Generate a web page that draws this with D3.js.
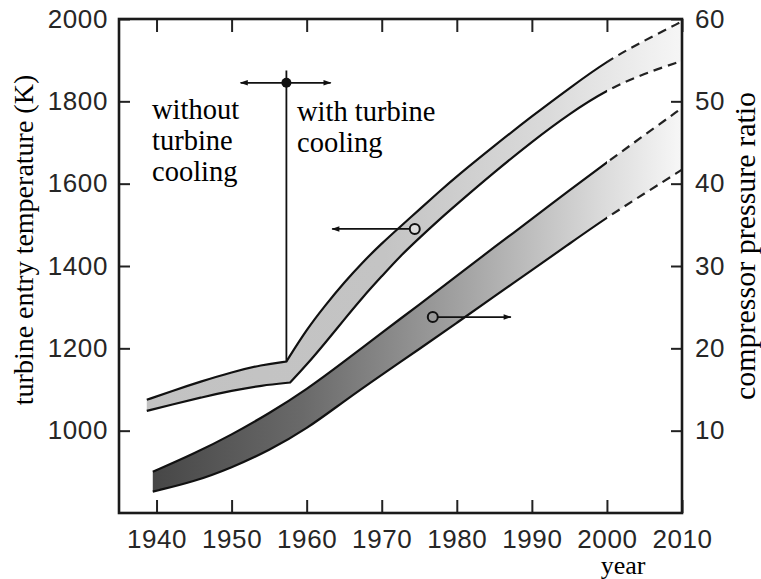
<!DOCTYPE html>
<html>
<head>
<meta charset="utf-8">
<script src="https://cdn.jsdelivr.net/npm/d3@7/dist/d3.min.js"></script>
<style>
  html, body { margin: 0; padding: 0; background: #fff; }
  svg { display: block; }
</style>
</head>
<body>
<script>
// ---- data -------------------------------------------------------------
// Turbine entry temperature band (K), upper and lower edges
const tetUpperYears = [1938.7, 1942, 1946, 1950, 1954, 1957.3, 1960, 1962.5, 1965, 1967.5, 1970, 1972.5, 1975, 1977.5, 1980, 1985, 1990, 1995, 2000, 2005, 2010];
const tetUpper      = [1075, 1096, 1120, 1142, 1160, 1168, 1246, 1305, 1360, 1410, 1455, 1496, 1537, 1578, 1618, 1692, 1764, 1832, 1898, 1948, 1994];
const tetLowerYears = [1938.7, 1942, 1946, 1950, 1954, 1957.8, 1960, 1962.5, 1965, 1967.5, 1970, 1972.5, 1975, 1977.5, 1980, 1985, 1990, 1995, 2000, 2005, 2010];
const tetLower      = [1048, 1063, 1081, 1097, 1110, 1117, 1160, 1214, 1270, 1325, 1375, 1425, 1468, 1510, 1550, 1628, 1702, 1770, 1828, 1868, 1898];
const tetKinkYear = 1957.3;   // start of turbine blade cooling

// Compressor pressure ratio band, upper and lower edges
const prYears = [1939.5, 1945, 1950, 1955, 1960, 1965, 1970, 1975, 1980, 1985, 1990, 1995, 2000, 2005, 2010];
const prUpper = [5.0, 7.2, 9.5, 12.1, 15.0, 18.4, 21.9, 25.3, 28.8, 32.3, 35.7, 39.2, 42.6, 45.9, 49.2];
const prLower = [2.6, 3.8, 5.5, 7.6, 10.2, 13.6, 16.8, 19.9, 23.1, 26.3, 29.5, 32.7, 35.9, 38.8, 41.7];

// Projection (dashed) starts
const projectionYear = 2000;

// Axis ticks
const yearTicks = [1940, 1950, 1960, 1970, 1980, 1990, 2000, 2010];
const tempTicks = [1000, 1200, 1400, 1600, 1800, 2000];
const ratioTicks = [10, 20, 30, 40, 50, 60];

// Annotation: switch to cooled turbines, and series markers
const coolingYear = 1957.3;
const coolingDotTemp = 1845;
const coolingLineTop = 1875;
const coolingArrowYears = [1951.2, 1963.2];
const tempMarker = { year: 1974.4, value: 1490, arrowTo: 1963.4 };
const ratioMarker = { year: 1976.8, value: 23.8, arrowTo: 1987.2 };

// ---- layout -----------------------------------------------------------
const W = 761, H = 579;
const plot = { left: 119, right: 682, top: 19, bottom: 513 };

const x = d3.scaleLinear().domain([1935, 2010]).range([plot.left, plot.right]);
const yT = d3.scaleLinear().domain([800, 2000]).range([plot.bottom, plot.top]);
const yR = d3.scaleLinear().domain([0, 60]).range([plot.bottom, plot.top]);

const svg = d3.select("body").append("svg").attr("width", W).attr("height", H);
const defs = svg.append("defs");

// horizontal fades of the two bands
function gradient(id, stops) {
  const g = defs.append("linearGradient").attr("id", id)
    .attr("gradientUnits", "userSpaceOnUse")
    .attr("x1", x(1938)).attr("x2", x(2010)).attr("y1", 0).attr("y2", 0);
  stops.forEach(([o, c]) => g.append("stop").attr("offset", o).attr("stop-color", c));
}
gradient("tetFill", [[0, "#c2c2c2"], [0.45, "#c4c4c4"], [0.75, "#dadada"], [1, "#f6f6f6"]]);
gradient("prFill", [[0, "#444444"], [0.3, "#6a6a6a"], [0.6, "#a4a4a4"], [0.85, "#dadada"], [1, "#f7f7f7"]]);

defs.append("clipPath").attr("id", "solidPart").append("rect")
  .attr("x", 0).attr("y", 0).attr("width", x(projectionYear)).attr("height", H);
defs.append("clipPath").attr("id", "dashPart").append("rect")
  .attr("x", x(projectionYear)).attr("y", 0).attr("width", W).attr("height", H);

function arrowHead(id) {
  defs.append("marker").attr("id", id)
    .attr("viewBox", "0 0 10 10").attr("refX", 9).attr("refY", 5)
    .attr("markerWidth", 12).attr("markerHeight", 8)
    .attr("markerUnits", "userSpaceOnUse")
    .attr("orient", "auto-start-reverse")
    .append("path").attr("d", "M0,1.5 L10,5 L0,8.5 Z").attr("fill", "#111");
}
arrowHead("arrow");

// ---- band geometry ----------------------------------------------------
const smooth = d3.line().curve(d3.curveBasis);

// a boundary as one or two smooth pieces (split where the trend kinks)
function boundaryPath(years, vals, yScale, kink, reverse) {
  let pts = years.map((yr, i) => [x(yr), yScale(vals[i])]);
  let pieces = [pts];
  if (kink != null) {
    const k = years.findIndex(yr => yr >= kink - 0.6);
    pieces = [pts.slice(0, k + 1), pts.slice(k)];
  }
  if (reverse) pieces = pieces.map(p => p.slice().reverse()).reverse();
  return pieces.map((p, i) => {
    const s = smooth(p);
    return i === 0 ? s : s.replace(/^M/, "L");
  }).join("");
}

function drawBand(topYears, topVals, botYears, botVals, yScale, kink, fill) {
  const top = boundaryPath(topYears, topVals, yScale, kink, false);
  const botRev = boundaryPath(botYears, botVals, yScale, kink, true);
  svg.append("path")
    .attr("d", top + botRev.replace(/^M/, "L") + "Z")
    .attr("fill", `url(#${fill})`).attr("stroke", "none");
  const edges = [top, boundaryPath(botYears, botVals, yScale, kink, false)];
  edges.forEach(d => {
    svg.append("path").attr("d", d).attr("clip-path", "url(#solidPart)")
      .attr("fill", "none").attr("stroke", "#111").attr("stroke-width", 2.2);
    svg.append("path").attr("d", d).attr("clip-path", "url(#dashPart)")
      .attr("fill", "none").attr("stroke", "#222").attr("stroke-width", 2.2)
      .attr("stroke-dasharray", "9,6");
  });
}

drawBand(prYears, prUpper, prYears, prLower, yR, null, "prFill");
drawBand(tetUpperYears, tetUpper, tetLowerYears, tetLower, yT, tetKinkYear, "tetFill");

// ---- frame and axes ---------------------------------------------------
const axisFont = "'Liberation Sans', Arial, Helvetica, sans-serif";
const serif = "'Liberation Serif', 'Times New Roman', serif";

function styleAxis(g) {
  g.select(".domain").remove();
  g.selectAll(".tick line").attr("stroke", "#222").attr("stroke-width", 2);
  g.selectAll(".tick text").attr("fill", "#262626")
    .style("font-family", axisFont).style("font-size", "26px")
    .style("letter-spacing", "0.6px");
}

svg.append("g").attr("transform", `translate(${plot.left},0)`)
  .call(d3.axisLeft(yT).tickValues(tempTicks).tickSizeInner(-11).tickSizeOuter(0).tickPadding(11).tickFormat(d3.format("d")))
  .call(styleAxis);
svg.append("g").attr("transform", `translate(${plot.right},0)`)
  .call(d3.axisRight(yR).tickValues(ratioTicks).tickSizeInner(-11).tickSizeOuter(0).tickPadding(13).tickFormat(d3.format("d")))
  .call(styleAxis);
svg.append("g").attr("transform", `translate(0,${plot.bottom})`)
  .call(d3.axisBottom(x).tickValues(yearTicks).tickSizeInner(-13).tickSizeOuter(0).tickPadding(17).tickFormat(d3.format("d")))
  .call(styleAxis);
svg.append("g").attr("transform", `translate(0,${plot.top})`)
  .call(d3.axisTop(x).tickValues(yearTicks).tickSizeInner(-13).tickSizeOuter(0).tickFormat(""))
  .call(styleAxis);

svg.append("rect")
  .attr("x", plot.left).attr("y", plot.top)
  .attr("width", plot.right - plot.left).attr("height", plot.bottom - plot.top)
  .attr("fill", "none").attr("stroke", "#1a1a1a").attr("stroke-width", 2.6);

// ---- annotations ------------------------------------------------------
const ann = svg.append("g").attr("stroke", "#111").attr("fill", "none");
ann.append("line")
  .attr("x1", x(coolingYear)).attr("x2", x(coolingYear))
  .attr("y1", yT(coolingLineTop)).attr("y2", yT(tetUpper[tetUpperYears.indexOf(coolingYear)]))
  .attr("stroke-width", 1.8);
ann.append("line")
  .attr("x1", x(coolingArrowYears[0])).attr("x2", x(coolingArrowYears[1]))
  .attr("y1", yT(coolingDotTemp)).attr("y2", yT(coolingDotTemp))
  .attr("stroke-width", 1.8)
  .attr("marker-start", "url(#arrow)").attr("marker-end", "url(#arrow)");
ann.append("circle").attr("cx", x(coolingYear)).attr("cy", yT(coolingDotTemp))
  .attr("r", 5).attr("fill", "#111").attr("stroke", "none");

// series markers pointing at their axes
ann.append("line")
  .attr("x1", x(tempMarker.year) - 5).attr("x2", x(tempMarker.arrowTo))
  .attr("y1", yT(tempMarker.value)).attr("y2", yT(tempMarker.value))
  .attr("stroke-width", 1.8).attr("marker-end", "url(#arrow)");
ann.append("circle").attr("cx", x(tempMarker.year)).attr("cy", yT(tempMarker.value))
  .attr("r", 5).attr("stroke-width", 2).attr("fill", "#ddd");
ann.append("line")
  .attr("x1", x(ratioMarker.year) + 5).attr("x2", x(ratioMarker.arrowTo))
  .attr("y1", yR(ratioMarker.value)).attr("y2", yR(ratioMarker.value))
  .attr("stroke-width", 1.8).attr("marker-end", "url(#arrow)");
ann.append("circle").attr("cx", x(ratioMarker.year)).attr("cy", yR(ratioMarker.value))
  .attr("r", 5).attr("stroke-width", 2).attr("fill", "#9a9a9a");

// ---- text labels ------------------------------------------------------
function lines(xp, y0, step, words) {
  const t = svg.append("text").attr("x", xp).attr("y", y0)
    .style("font-family", serif).style("font-size", "28.5px").attr("fill", "#000");
  words.forEach((w, i) => t.append("tspan").attr("x", xp).attr("y", y0 + i * step).text(w));
}
lines(152, 119, 31, ["without", "turbine", "cooling"]);
lines(297, 121, 31, ["with turbine", "cooling"]);

svg.append("text")
  .attr("transform", `translate(33,240) rotate(-90)`)
  .attr("text-anchor", "middle")
  .style("font-family", serif).style("font-size", "28px").attr("fill", "#000")
  .text("turbine entry temperature (K)");
svg.append("text")
  .attr("transform", `translate(755,246) rotate(-90)`)
  .attr("text-anchor", "middle")
  .style("font-family", serif).style("font-size", "30px").attr("fill", "#000")
  .text("compressor pressure ratio");
svg.append("text")
  .attr("x", 623).attr("y", 574).attr("text-anchor", "middle")
  .style("font-family", serif).style("font-size", "26px").attr("fill", "#000")
  .text("year");
</script>
</body>
</html>
